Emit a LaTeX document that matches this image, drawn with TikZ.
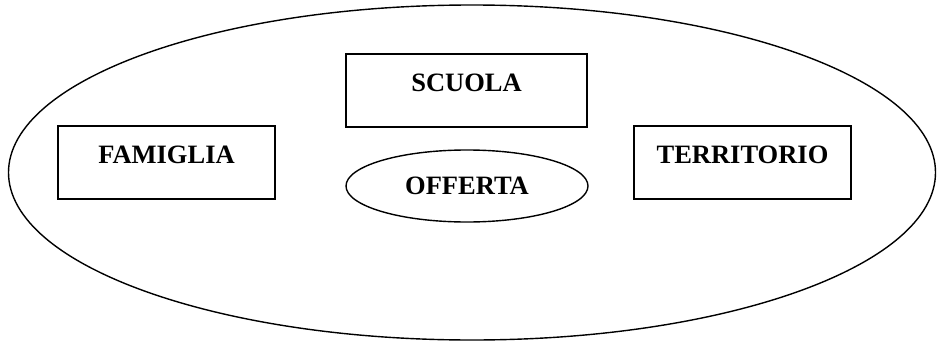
\documentclass[tikz,border=0pt]{standalone}
\usepackage{fontspec}
\setmainfont{Liberation Serif}
\usepackage{tikz}
\usetikzlibrary{shapes.geometric}

\begin{document}
\begin{tikzpicture}[x=1pt, y=-1pt, line width=1.4pt,
  ente/.style={draw, rectangle, inner sep=0pt, minimum width=217pt, text height=37pt, text depth=36pt, font=\fontsize{26.5}{30}\selectfont\bfseries},
  anello/.style={draw, ellipse, inner sep=0pt}]
\useasboundingbox (0,0) rectangle (938,343); % page size
\node[anello, minimum width=927pt, minimum height=335pt] (contesto) at (472,172.5) {}; % outer ellipse
\node[ente, minimum width=241pt] (scuola) at (466.5,90.5) {SCUOLA}; % top box
\node[ente] (famiglia) at (166.5,162.5) {FAMIGLIA}; % left box
\node[ente] (territorio) at (742.5,162.5) {TERRITORIO}; % right box
\node[anello, minimum width=242pt, minimum height=72pt, font=\fontsize{26.5}{30}\selectfont\bfseries] (offerta) at (467,186) {OFFERTA}; % inner ellipse
\end{tikzpicture}
\end{document}
